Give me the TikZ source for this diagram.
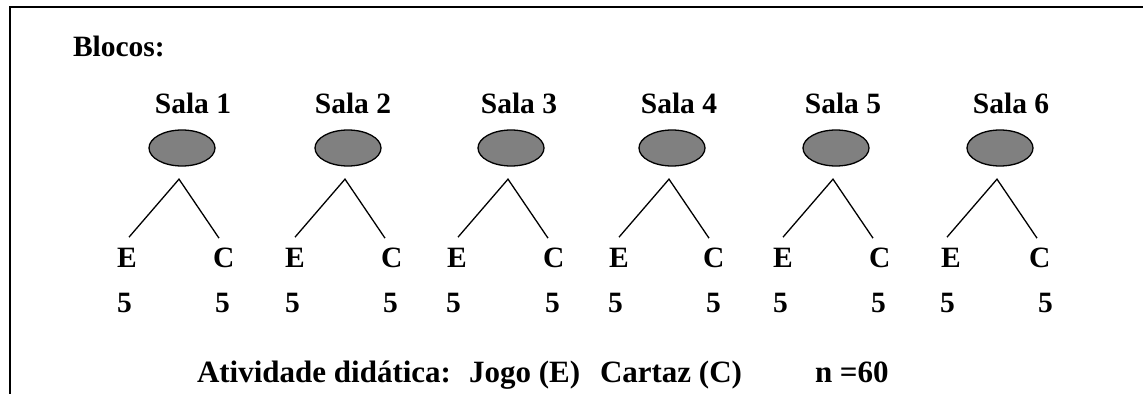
\documentclass[tikz,border=0pt]{standalone}
\usepackage{fontspec}
\setmainfont{Liberation Serif}
\usetikzlibrary{shapes.geometric,calc}
\tikzset{
  txt/.style={inner sep=0pt, outer sep=0pt, anchor=base west, font=\fontsize{29.5}{34}\selectfont\bfseries},
  bigtxt/.style={txt, font=\fontsize{31}{36}\selectfont\bfseries},
  salalbl/.style={inner sep=0pt, outer sep=0pt, anchor=base, font=\fontsize{29.5}{34}\selectfont\bfseries},
  blob/.style={ellipse, draw=black, line width=1.3pt, fill=black!50, minimum width=66pt, minimum height=36pt, inner sep=0pt},
  branch/.style={line width=1.3pt, black},
  frame/.style={line width=2pt, black}
}
\begin{document}
\begin{tikzpicture}[x=1pt,y=-1pt]
\useasboundingbox (0,0) rectangle (1143,394);
\coordinate (ftl) at (10,7);
\coordinate (ftr) at (1143,7);
\coordinate (fbl) at (10,394);
\draw[frame] (ftr) -- (ftl) -- (fbl);

\node[txt] (blocos) at (73,56) {Blocos:};

% sala i: label center, ellipse center, E left, C left, left 5, right 5
\foreach \i/\lx/\ex/\Ex/\Cx/\fa/\fb in {
  1/193/182/117/213/117/215,
  2/353/348/285/381/285/383,
  3/519/511/447/543/446/545,
  4/679/672/609/703/608/706,
  5/843/836/773/869/773/871,
  6/1011/1000/941/1029/940/1038}{
  \node[salalbl] (s\i) at (\lx,113) {Sala \i};
  \node[blob] (e\i) at (\ex,148) {};
  \coordinate (a\i) at ($(e\i.south)+(-3,12.5)$);
  \node[txt] (E\i) at (\Ex,267) {E};
  \node[txt] (C\i) at (\Cx,267) {C};
  \node[txt] (nE\i) at (\fa,312) {5};
  \node[txt] (nC\i) at (\fb,312) {5};
  \coordinate (l\i) at ($(a\i)+(-50,58)$);
  \coordinate (r\i) at ($(a\i)+(40,59)$);
  \draw[branch] (l\i) -- (a\i) -- (r\i);
}

\node[bigtxt] (ativ) at (197,382) {Atividade didática:};
\node[bigtxt] (jogo) at (469,382) {Jogo (E)};
\node[bigtxt] (cartaz) at (600,382) {Cartaz (C)};
\node[bigtxt] (n) at (815,382) {n =60};
\end{tikzpicture}
\end{document}
